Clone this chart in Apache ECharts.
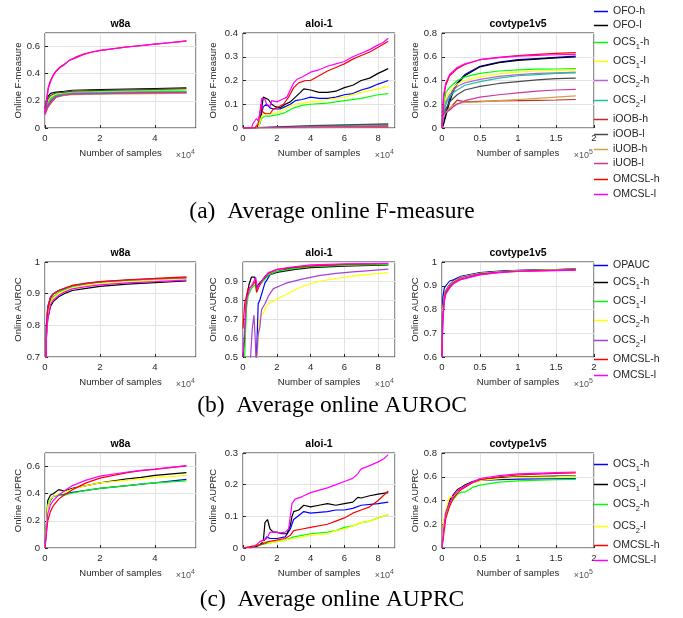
<!DOCTYPE html>
<html><head><meta charset="utf-8">
<script src="https://cdn.jsdelivr.net/npm/echarts@6/dist/echarts.min.js"></script>
<style>html,body{margin:0;padding:0;background:#fff}#c{width:683px;height:618px}</style>
</head><body><div id="c"></div>
<script>
// ================= DATA =================
// x values are in units of 10^4 samples (w8a, aloi-1) or 10^5 samples (covtype1v5)

// ---- (a) Online F-measure ----
const fNames = ['OFO-h','OFO-l','OCS1-h','OCS1-l','OCS2-h','OCS2-l','iOOB-h','iOOB-l','iUOB-h','iUOB-l','OMCSL-h','OMCSL-l'];
const fColors = ['#0000ff','#000000','#00ff00','#ffff00','#b565d6','#1fbfa0','#c62828','#4a4a4a','#d4a04a','#c73aa6','#ff0000','#ff00ff'];

const fW8aX = [0,0.1,0.2,0.4,0.7,1,2,3,4,5.15];
const fW8a_OFOh  = [0.12,0.17,0.2,0.232,0.243,0.252,0.257,0.26,0.262,0.265];
const fW8a_OFOl  = [0.15,0.23,0.255,0.265,0.27,0.278,0.283,0.287,0.291,0.296];
const fW8a_OCS1h = [0.12,0.18,0.22,0.245,0.258,0.268,0.272,0.275,0.277,0.28];
const fW8a_OCS1l = [0.12,0.19,0.23,0.25,0.262,0.27,0.275,0.278,0.281,0.285];
const fW8a_OCS2h = [0.11,0.17,0.2,0.235,0.248,0.255,0.259,0.262,0.264,0.266];
const fW8a_OCS2l = [0.12,0.18,0.21,0.24,0.25,0.257,0.261,0.264,0.266,0.269];
const fW8a_iOOBh = [0.11,0.16,0.19,0.23,0.243,0.25,0.254,0.256,0.258,0.26];
const fW8a_iOOBl = [0.14,0.21,0.24,0.258,0.265,0.272,0.277,0.281,0.285,0.29];
const fW8a_iUOBh = [0.1,0.15,0.18,0.225,0.24,0.246,0.25,0.252,0.254,0.256];
const fW8a_iUOBl = [0.1,0.15,0.18,0.228,0.243,0.25,0.254,0.257,0.259,0.261];
const fW8aXm = [0,0.06,0.12,0.2,0.3,0.4,0.55,0.7,0.9,1.1,1.4,1.7,2,2.5,3,3.5,4,4.5,5.15];
const fW8a_OMCSLh = [0.12,0.22,0.3,0.35,0.39,0.42,0.45,0.47,0.5,0.52,0.545,0.56,0.572,0.585,0.598,0.608,0.618,0.628,0.642];
const fW8a_OMCSLl = [0.1,0.2,0.29,0.34,0.385,0.415,0.445,0.465,0.5,0.515,0.54,0.558,0.57,0.584,0.597,0.607,0.618,0.627,0.64];

const fAloi_OFOh  = [[0,0],[0.8,0],[1,0.02],[1.1,0.06],[1.2,0.09],[1.4,0.1],[1.6,0.085],[1.8,0.08],[2.2,0.08],[2.5,0.09],[2.8,0.1],[3.1,0.115],[3.5,0.12],[4,0.13],[4.5,0.125],[5,0.125],[5.5,0.13],[6,0.14],[6.5,0.145],[7,0.16],[7.5,0.17],[8,0.185],[8.6,0.2]];
const fAloi_OFOl  = [[0,0],[0.8,0],[1,0.02],[1.1,0.08],[1.2,0.13],[1.3,0.135],[1.5,0.12],[1.7,0.1],[1.9,0.09],[2.2,0.085],[2.5,0.1],[2.8,0.11],[3.1,0.13],[3.4,0.15],[3.6,0.165],[4,0.16],[4.5,0.15],[5,0.15],[5.5,0.155],[6,0.17],[6.5,0.18],[7,0.2],[7.5,0.21],[8,0.23],[8.6,0.25]];
const fAloi_OCS1h = [[0,0],[0.9,0],[1.1,0.04],[1.3,0.05],[1.6,0.05],[2,0.055],[2.5,0.065],[3,0.085],[3.5,0.095],[4,0.1],[5,0.105],[6,0.115],[7,0.125],[8,0.14],[8.6,0.145]];
const fAloi_OCS1l = [[0,0],[0.9,0],[1.1,0.05],[1.3,0.065],[1.6,0.06],[2,0.065],[2.5,0.08],[3,0.1],[3.5,0.105],[4,0.11],[5,0.12],[6,0.13],[7,0.15],[8,0.165],[8.6,0.175]];
const fAloi_OCS2h = [[0,0],[2,0.003],[4,0.006],[8.6,0.01]];
const fAloi_OCS2l = [[0,0],[2,0.004],[4,0.008],[6,0.011],[8.6,0.015]];
const fAloi_iOOBh = [[0,0],[8.6,0.004]];
const fAloi_iOOBl = [[0,0],[1,0.002],[2,0.005],[4,0.01],[6,0.013],[8.6,0.017]];
const fAloi_iUOBh = [[0,0],[4,0.003],[8.6,0.006]];
const fAloi_iUOBl = [[0,0],[4,0.004],[8.6,0.008]];
const fAloi_OMCSLh = [[0,0],[0.7,0],[0.9,0.02],[1,0.06],[1.05,0.1],[1.15,0.07],[1.3,0.06],[1.6,0.06],[1.8,0.08],[2,0.085],[2.4,0.1],[2.7,0.13],[3,0.17],[3.3,0.19],[3.7,0.2],[4,0.2],[4.5,0.22],[5,0.24],[5.5,0.255],[6,0.27],[6.5,0.29],[7,0.305],[7.5,0.32],[8,0.34],[8.6,0.365]];
const fAloi_OMCSLl = [[0,0],[0.5,0],[0.6,0.02],[0.8,0.04],[0.9,0.03],[1.05,0.08],[1.1,0.125],[1.3,0.12],[1.4,0.1],[1.6,0.09],[1.7,0.115],[2,0.11],[2.3,0.12],[2.6,0.13],[2.8,0.16],[3,0.19],[3.2,0.205],[3.5,0.215],[4,0.235],[4.5,0.245],[5,0.26],[5.5,0.27],[6,0.28],[6.5,0.3],[7,0.315],[7.5,0.33],[8,0.35],[8.3,0.36],[8.6,0.378]];

const fCovX = [0,0.02,0.05,0.1,0.15,0.2,0.3,0.5,0.75,1,1.25,1.5,1.76];
const fCov_OFOh  = [0,0.04,0.12,0.25,0.33,0.38,0.45,0.52,0.555,0.575,0.585,0.595,0.605];
const fCov_OFOl  = [0,0.03,0.1,0.22,0.31,0.37,0.44,0.515,0.55,0.57,0.58,0.59,0.598];
const fCov_OCS1h = [0,0.15,0.3,0.34,0.37,0.4,0.43,0.46,0.48,0.49,0.495,0.497,0.5];
const fCov_OCS1l = [0,0.12,0.25,0.3,0.34,0.37,0.4,0.43,0.455,0.47,0.48,0.485,0.49];
const fCov_OCS2h = [0.1,0.15,0.22,0.28,0.32,0.35,0.38,0.41,0.435,0.45,0.46,0.465,0.47];
const fCov_OCS2l = [0.05,0.12,0.2,0.26,0.3,0.32,0.36,0.39,0.42,0.44,0.45,0.46,0.465];
const fCov_iOOBh = [0.1,0.12,0.13,0.16,0.2,0.235,0.22,0.225,0.228,0.23,0.233,0.236,0.24];
const fCov_iOOBl = [0.02,0.1,0.16,0.22,0.25,0.28,0.32,0.35,0.375,0.39,0.405,0.415,0.42];
const fCov_iUOBh = [0.05,0.1,0.13,0.17,0.19,0.205,0.215,0.22,0.23,0.24,0.25,0.26,0.27];
const fCov_iUOBl = [0.1,0.12,0.13,0.15,0.18,0.2,0.23,0.26,0.28,0.295,0.31,0.32,0.325];
const fCov_OMCSLh = [0,0.25,0.36,0.44,0.47,0.5,0.535,0.575,0.595,0.61,0.62,0.628,0.635];
const fCov_OMCSLl = [0,0.28,0.38,0.45,0.48,0.51,0.54,0.575,0.593,0.605,0.612,0.617,0.62];

// ---- (b) Online AUROC ----
const rNames = ['OPAUC','OCS1-h','OCS1-l','OCS2-h','OCS2-l','OMCSL-h','OMCSL-l'];
const rColors = ['#0000ff','#000000','#00ff00','#ffff00','#a83fd6','#ff0000','#ff00ff'];

const rW8aX = [0,0.05,0.1,0.2,0.3,0.5,0.7,1,1.5,2,3,4,5.15];
const rW8a_OPAUC  = [0.5,0.8,0.86,0.89,0.9,0.91,0.915,0.925,0.932,0.937,0.942,0.946,0.95];
const rW8a_OCS1h  = [0.5,0.76,0.82,0.86,0.875,0.89,0.9,0.91,0.917,0.923,0.93,0.935,0.94];
const rW8a_OCS1l  = [0.5,0.78,0.84,0.875,0.89,0.905,0.912,0.922,0.93,0.936,0.942,0.946,0.951];
const rW8a_OCS2h  = [0.5,0.77,0.83,0.87,0.885,0.9,0.908,0.918,0.926,0.932,0.938,0.943,0.947];
const rW8a_OCS2l  = [0.5,0.8,0.855,0.888,0.9,0.91,0.916,0.925,0.932,0.937,0.943,0.947,0.95];
const rW8a_OMCSLh = [0.5,0.79,0.85,0.885,0.898,0.91,0.917,0.926,0.933,0.938,0.944,0.948,0.953];
const rW8a_OMCSLl = [0.5,0.76,0.82,0.865,0.88,0.895,0.905,0.915,0.922,0.928,0.934,0.938,0.943];

const rAloi_OPAUC  = [[0,0.3],[0.7,0.4],[0.8,0.5],[0.9,0.78],[1,0.8],[1.1,0.8],[1.2,0.86],[1.3,0.89],[1.45,0.91],[1.6,0.935],[2,0.95],[3,0.97],[4,0.975],[5,0.98],[6,0.983],[8.6,0.987]];
const rAloi_OCS1h  = [[0,0.5],[0.1,0.6],[0.2,0.8],[0.35,0.88],[0.5,0.92],[0.6,0.93],[0.7,0.92],[0.8,0.86],[0.9,0.88],[1.1,0.9],[1.3,0.915],[1.5,0.93],[2,0.945],[3,0.96],[4,0.97],[6,0.978],[8.6,0.985]];
const rAloi_OCS1l  = [[0,0.3],[0.1,0.5],[0.2,0.75],[0.3,0.82],[0.5,0.86],[0.7,0.88],[0.8,0.85],[1,0.88],[1.3,0.91],[1.5,0.93],[2,0.95],[3,0.965],[4,0.975],[6,0.982],[8.6,0.988]];
const rAloi_OCS2h  = [[0.7,0.4],[0.85,0.5],[0.95,0.68],[1.05,0.72],[1.2,0.73],[1.4,0.77],[1.6,0.79],[1.8,0.79],[2,0.805],[2.6,0.83],[3,0.85],[3.6,0.875],[4.6,0.9],[5.5,0.913],[6.6,0.927],[7.6,0.936],[8.6,0.944]];
const rAloi_OCS2l  = [[0,0.3],[0.3,0.4],[0.45,0.5],[0.55,0.65],[0.65,0.72],[0.72,0.6],[0.78,0.45],[0.9,0.62],[1,0.66],[1.1,0.75],[1.3,0.78],[1.5,0.82],[1.8,0.86],[2.2,0.875],[2.6,0.89],[3.5,0.91],[4.5,0.928],[5.5,0.94],[6.5,0.948],[7.5,0.955],[8.6,0.962]];
const rAloi_OMCSLh = [[0,0.65],[0.1,0.78],[0.2,0.82],[0.3,0.86],[0.5,0.87],[0.6,0.87],[0.75,0.9],[0.8,0.84],[0.9,0.86],[1.1,0.9],[1.3,0.925],[1.5,0.94],[2,0.96],[3,0.972],[4,0.98],[6,0.987],[8.6,0.992]];
const rAloi_OMCSLl = [[0,0.5],[0.2,0.8],[0.4,0.86],[0.6,0.89],[0.75,0.92],[0.85,0.86],[1,0.88],[1.2,0.91],[1.5,0.945],[2,0.962],[3,0.975],[4,0.985],[6,0.99],[8.6,0.993]];

const rCovX = [0,0.01,0.03,0.05,0.1,0.15,0.25,0.5,0.75,1,1.5,1.76];
const rCov_OPAUC  = [0.6,0.85,0.89,0.9,0.92,0.925,0.94,0.955,0.962,0.965,0.968,0.97];
const rCov_OCS1h  = [0.6,0.8,0.86,0.88,0.905,0.92,0.937,0.953,0.96,0.964,0.968,0.97];
const rCov_OCS1l  = [0.6,0.79,0.85,0.875,0.9,0.915,0.935,0.952,0.959,0.963,0.967,0.969];
const rCov_OCS2h  = [0.6,0.8,0.855,0.877,0.902,0.918,0.936,0.952,0.959,0.963,0.967,0.969];
const rCov_OCS2l  = [0.6,0.78,0.85,0.875,0.9,0.915,0.935,0.951,0.958,0.962,0.966,0.968];
const rCov_OMCSLh = [0.6,0.76,0.84,0.87,0.895,0.91,0.928,0.948,0.956,0.961,0.965,0.967];
const rCov_OMCSLl = [0.6,0.75,0.83,0.865,0.89,0.908,0.926,0.946,0.955,0.96,0.964,0.966];

// ---- (c) Online AUPRC ----
const pNames = ['OCS1-h','OCS1-l','OCS2-h','OCS2-l','OMCSL-h','OMCSL-l'];
const pColors = ['#0000ff','#000000','#00ff00','#ffff00','#ff0000','#ff00ff'];

const pW8aX = [0,0.1,0.2,0.3,0.5,0.7,1,1.5,2,3,3.5,4,5.15];
const pW8a_OCS1h  = [0,0.3,0.35,0.38,0.39,0.395,0.41,0.425,0.44,0.46,0.47,0.48,0.505];
const pW8a_OCS1l  = [0,0.35,0.39,0.4,0.43,0.42,0.44,0.46,0.48,0.51,0.52,0.535,0.555];
const pW8a_OCS2h  = [0,0.32,0.36,0.38,0.39,0.39,0.405,0.425,0.44,0.46,0.47,0.48,0.495];
const pW8a_OCS2l  = [0,0.3,0.36,0.38,0.4,0.41,0.435,0.46,0.48,0.5,0.51,0.52,0.535];
const pW8a_OMCSLh = [0,0.2,0.27,0.31,0.36,0.39,0.43,0.48,0.515,0.555,0.57,0.58,0.605];
const pW8a_OMCSLl = [0,0.25,0.32,0.35,0.39,0.42,0.46,0.5,0.53,0.56,0.572,0.582,0.607];

const pAloi_OCS1h  = [[0,0],[1,0.01],[1.2,0.02],[1.4,0.035],[1.6,0.03],[2,0.03],[2.5,0.035],[2.8,0.06],[3,0.09],[3.6,0.115],[4,0.11],[5,0.115],[5.5,0.12],[6,0.12],[6.5,0.125],[7,0.135],[8,0.14],[8.6,0.145]];
const pAloi_OCS1l  = [[0,0],[0.8,0.005],[1,0.01],[1.2,0.02],[1.3,0.08],[1.45,0.09],[1.6,0.06],[1.8,0.05],[2,0.05],[2.3,0.045],[2.6,0.045],[2.8,0.07],[2.9,0.1],[3,0.115],[3.3,0.12],[3.6,0.135],[4,0.13],[4.5,0.135],[5,0.14],[5.5,0.135],[6,0.14],[6.5,0.145],[6.8,0.16],[7,0.158],[7.5,0.165],[8,0.17],[8.6,0.175]];
const pAloi_OCS2h  = [[0,0],[1,0.01],[1.5,0.015],[2,0.02],[2.5,0.025],[3,0.035],[3.5,0.04],[4,0.045],[5,0.05],[5.5,0.055],[6,0.065],[6.5,0.07],[7,0.08],[7.5,0.085],[8,0.095],[8.6,0.105]];
const pAloi_OCS2l  = [[0,0],[0.8,0.01],[1,0.02],[1.3,0.02],[1.5,0.015],[2,0.02],[2.5,0.025],[3,0.03],[3.5,0.035],[4,0.04],[5,0.045],[5.5,0.055],[6,0.06],[6.5,0.07],[7,0.08],[7.5,0.085],[8,0.095],[8.6,0.105]];
const pAloi_OMCSLh = [[0,0],[1,0.01],[1.5,0.02],[2,0.025],[2.5,0.03],[2.8,0.04],[3,0.055],[3.5,0.06],[4,0.065],[5,0.075],[5.5,0.085],[6,0.095],[6.5,0.11],[7,0.12],[7.5,0.13],[8,0.15],[8.6,0.18]];
const pAloi_OMCSLl = [[0,0],[0.5,0],[0.8,0.01],[1,0.02],[1.2,0.025],[1.4,0.03],[1.6,0.05],[1.8,0.05],[2.2,0.048],[2.5,0.05],[2.7,0.06],[2.8,0.1],[2.9,0.14],[3.1,0.155],[3.4,0.16],[3.6,0.165],[4,0.175],[5,0.19],[5.5,0.2],[6,0.21],[6.5,0.22],[6.8,0.235],[7,0.25],[7.5,0.26],[8,0.272],[8.3,0.28],[8.6,0.295]];

const pCovX = [0,0.02,0.05,0.1,0.15,0.2,0.25,0.3,0.4,0.5,0.75,1,1.5,1.76];
const pCov_OCS1h  = [0,0.2,0.3,0.4,0.44,0.48,0.5,0.52,0.55,0.57,0.575,0.58,0.583,0.585];
const pCov_OCS1l  = [0,0.2,0.3,0.4,0.45,0.49,0.51,0.53,0.56,0.575,0.59,0.6,0.605,0.607];
const pCov_OCS2h  = [0,0.18,0.28,0.37,0.41,0.45,0.47,0.47,0.51,0.53,0.555,0.565,0.575,0.578];
const pCov_OCS2l  = [0,0.22,0.32,0.43,0.43,0.48,0.5,0.52,0.55,0.57,0.585,0.595,0.6,0.605];
const pCov_OMCSLh = [0,0.1,0.25,0.35,0.42,0.46,0.49,0.51,0.55,0.575,0.6,0.615,0.628,0.632];
const pCov_OMCSLl = [0,0.15,0.3,0.38,0.44,0.48,0.5,0.52,0.555,0.585,0.61,0.625,0.635,0.64];

// ================= BUILD =================
const zip = (xs, ys) => ys.map((y, i) => [xs[i], y]);
const FONT = '"Liberation Sans", Arial, Helvetica, sans-serif';
const TXT = '#262626';

const rows = [
  {names: fNames, colors: fColors, yName: 'Online F-measure', prefix: 'a:', legendY: [10,24,41,60,79,99,118,133,148,162,178,193]},
  {names: rNames, colors: rColors, yName: 'Online AUROC', prefix: 'b:', legendY: [264,281,300,319,339,358,374]},
  {names: pNames, colors: pColors, yName: 'Online AUPRC', prefix: 'c:', legendY: [463,483,503,525,544,559]}
];
const captions = ['(a)  Average online F-measure', '(b)  Average online AUROC', '(c)  Average online AUPRC'];
const captionY = [212, 406, 600];

const rowTop = [33, 262, 453];
const colLeft = [45, 243, 442];
const colW = [151, 152, 152];
const gridH = 95;

const panels = [
  {r:0,c:0,title:'w8a',xMax:5.5,xInt:2,exp:4,yMin:0,yMax:0.7,yInt:0.2,hideYMax:true,nameGap:20,
   data:[zip(fW8aX,fW8a_OFOh),zip(fW8aX,fW8a_OFOl),zip(fW8aX,fW8a_OCS1h),zip(fW8aX,fW8a_OCS1l),zip(fW8aX,fW8a_OCS2h),zip(fW8aX,fW8a_OCS2l),zip(fW8aX,fW8a_iOOBh),zip(fW8aX,fW8a_iOOBl),zip(fW8aX,fW8a_iUOBh),zip(fW8aX,fW8a_iUOBl),zip(fW8aXm,fW8a_OMCSLh),zip(fW8aXm,fW8a_OMCSLl)]},
  {r:0,c:1,title:'aloi-1',xMax:9,xInt:2,exp:4,yMin:0,yMax:0.4,yInt:0.1,hideYMax:false,nameGap:25,
   data:[fAloi_OFOh,fAloi_OFOl,fAloi_OCS1h,fAloi_OCS1l,fAloi_OCS2h,fAloi_OCS2l,fAloi_iOOBh,fAloi_iOOBl,fAloi_iUOBh,fAloi_iUOBl,fAloi_OMCSLh,fAloi_OMCSLl]},
  {r:0,c:2,title:'covtype1v5',xMax:2,xInt:0.5,exp:5,yMin:0,yMax:0.8,yInt:0.2,hideYMax:false,nameGap:17,
   data:[fCov_OFOh,fCov_OFOl,fCov_OCS1h,fCov_OCS1l,fCov_OCS2h,fCov_OCS2l,fCov_iOOBh,fCov_iOOBl,fCov_iUOBh,fCov_iUOBl,fCov_OMCSLh,fCov_OMCSLl].map(a=>zip(fCovX,a))},
  {r:1,c:0,title:'w8a',xMax:5.5,xInt:2,exp:4,yMin:0.7,yMax:1,yInt:0.1,hideYMax:false,nameGap:20,
   data:[rW8a_OPAUC,rW8a_OCS1h,rW8a_OCS1l,rW8a_OCS2h,rW8a_OCS2l,rW8a_OMCSLh,rW8a_OMCSLl].map(a=>zip(rW8aX,a))},
  {r:1,c:1,title:'aloi-1',xMax:9,xInt:2,exp:4,yMin:0.5,yMax:1,yInt:0.1,hideYMax:true,nameGap:25,
   data:[rAloi_OPAUC,rAloi_OCS1h,rAloi_OCS1l,rAloi_OCS2h,rAloi_OCS2l,rAloi_OMCSLh,rAloi_OMCSLl]},
  {r:1,c:2,title:'covtype1v5',xMax:2,xInt:0.5,exp:5,yMin:0.6,yMax:1,yInt:0.1,hideYMax:false,nameGap:17,
   data:[rCov_OPAUC,rCov_OCS1h,rCov_OCS1l,rCov_OCS2h,rCov_OCS2l,rCov_OMCSLh,rCov_OMCSLl].map(a=>zip(rCovX,a))},
  {r:2,c:0,title:'w8a',xMax:5.5,xInt:2,exp:4,yMin:0,yMax:0.7,yInt:0.2,hideYMax:true,nameGap:20,
   data:[pW8a_OCS1h,pW8a_OCS1l,pW8a_OCS2h,pW8a_OCS2l,pW8a_OMCSLh,pW8a_OMCSLl].map(a=>zip(pW8aX,a))},
  {r:2,c:1,title:'aloi-1',xMax:9,xInt:2,exp:4,yMin:0,yMax:0.3,yInt:0.1,hideYMax:false,nameGap:25,
   data:[pAloi_OCS1h,pAloi_OCS1l,pAloi_OCS2h,pAloi_OCS2l,pAloi_OMCSLh,pAloi_OMCSLl]},
  {r:2,c:2,title:'covtype1v5',xMax:2,xInt:0.5,exp:5,yMin:0,yMax:0.8,yInt:0.2,hideYMax:false,nameGap:17,
   data:[pCov_OCS1h,pCov_OCS1l,pCov_OCS2h,pCov_OCS2l,pCov_OMCSLh,pCov_OMCSLl].map(a=>zip(pCovX,a))}
];

const num = v => String(Math.round(v * 1000) / 1000);
const grid = [], xAxis = [], yAxis = [], series = [], graphic = [], legend = [];

panels.forEach((p, gi) => {
  const row = rows[p.r];
  const left = colLeft[p.c], top = rowTop[p.r], w = colW[p.c];
  grid.push({left: left, top: top, width: w, height: gridH, show: true, borderColor: TXT, borderWidth: 1, backgroundColor: '#fff'});
  xAxis.push({
    gridIndex: gi, type: 'value', min: 0, max: p.xMax, interval: p.xInt,
    axisLine: {show: false},
    axisTick: {show: true, inside: true, length: 3, lineStyle: {color: TXT}},
    splitLine: {show: true, lineStyle: {color: '#e3e3e3', width: 1}},
    axisLabel: {fontSize: 9.5, color: TXT, fontFamily: FONT, margin: 5, showMaxLabel: p.xMax % p.xInt === 0, formatter: num},
    name: 'Number of samples', nameLocation: 'middle', nameGap: 20,
    nameTextStyle: {fontSize: 9.5, color: TXT, fontFamily: FONT}
  });
  yAxis.push({
    gridIndex: gi, type: 'value', min: p.yMin, max: p.yMax, interval: p.yInt,
    axisLine: {show: false},
    axisTick: {show: true, inside: true, length: 3, lineStyle: {color: TXT}},
    splitLine: {show: true, lineStyle: {color: '#e3e3e3', width: 1}},
    axisLabel: {fontSize: 9.5, color: TXT, fontFamily: FONT, margin: 5, showMaxLabel: !p.hideYMax, formatter: num},
    name: row.yName, nameLocation: 'middle', nameGap: p.nameGap,
    nameTextStyle: {fontSize: 9.5, color: TXT, fontFamily: FONT}
  });
  p.data.forEach((d, si) => {
    series.push({
      type: 'line', name: row.prefix + row.names[si], xAxisIndex: gi, yAxisIndex: gi,
      data: d, symbol: 'none', showSymbol: false, smooth: false, animation: false,
      lineStyle: {color: row.colors[si], width: 1.2}, itemStyle: {color: row.colors[si]},
      emphasis: {disabled: true}, clip: true
    });
  });
  graphic.push({type: 'text', x: left + w / 2, y: top - 9,
    style: {text: p.title, align: 'center', verticalAlign: 'middle', textAlign: 'center', textVerticalAlign: 'middle',
      font: 'bold 10.5px ' + FONT, fill: '#000'}});
  graphic.push({type: 'text', x: left + w - 1, y: top + gridH + 28,
    style: {text: '{a|×10}{b|' + p.exp + '}', align: 'right', verticalAlign: 'middle', textAlign: 'right', textVerticalAlign: 'middle',
      rich: {a: {fontSize: 9, fontFamily: FONT, fill: '#555', color: '#555', lineHeight: 14},
             b: {fontSize: 7, fontFamily: FONT, fill: '#555', color: '#555', lineHeight: 7, verticalAlign: 'top'}}}});
});

function legendFmt(name) {
  const n = name.slice(2);
  const m = n.match(/^(OCS)(\d)(-.*)$/);
  if (m) return '{m|OCS}{s|' + m[2] + '}{m|' + m[3] + '}';
  return '{m|' + n + '}';
}
rows.forEach(row => {
  row.names.forEach((n, i) => {
    legend.push({
      data: [{name: row.prefix + n, icon: 'rect'}], left: 594, top: row.legendY[i] - 4, padding: 0,
      itemWidth: 14, itemHeight: 1.5, selectedMode: false,
      formatter: legendFmt,
      textStyle: {rich: {
        m: {fontSize: 10.5, fontFamily: FONT, color: TXT, lineHeight: 16},
        s: {fontSize: 7.5, fontFamily: FONT, color: TXT, lineHeight: 8, verticalAlign: 'bottom'}
      }}
    });
  });
});

captions.forEach((t, i) => {
  graphic.push({type: 'text', x: 332, y: captionY[i],
    style: {text: t, align: 'center', verticalAlign: 'middle', textAlign: 'center', textVerticalAlign: 'middle',
      font: '23.5px "Liberation Serif", "Times New Roman", serif', fill: '#000'}});
});

const chart = echarts.init(document.getElementById('c'), null, {renderer: 'canvas'});
chart.setOption({
  backgroundColor: '#fff', animation: false,
  grid, xAxis, yAxis, series, legend, graphic
});
</script></body></html>
